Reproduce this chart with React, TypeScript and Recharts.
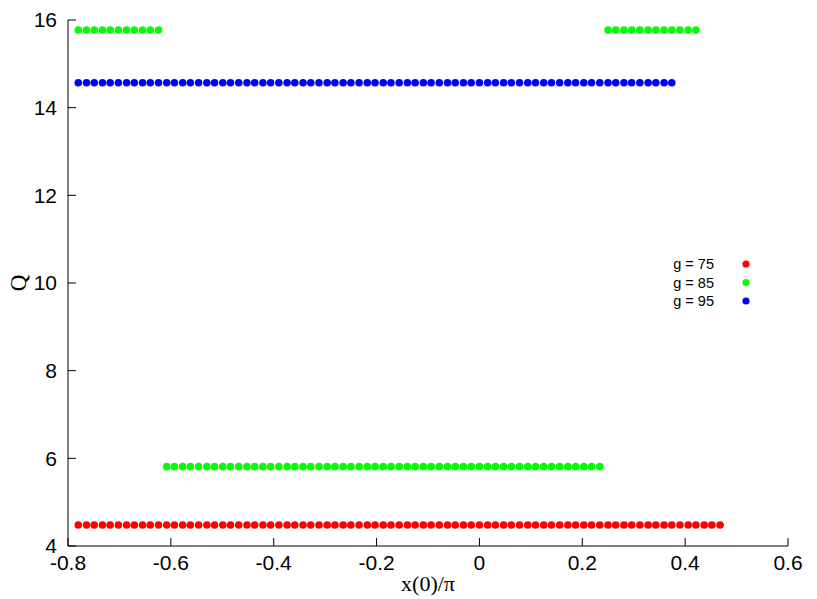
import React from 'react';
import { ScatterChart, Scatter, XAxis, YAxis, Legend, Label } from 'recharts';

// x(0)/pi sampling grid (same grid for every g)
const xGrid = [
  -0.780, -0.764, -0.749, -0.733, -0.718, -0.702, -0.686, -0.671, -0.655, -0.640,
  -0.624, -0.608, -0.593, -0.577, -0.562, -0.546, -0.530, -0.515, -0.499, -0.484,
  -0.468, -0.452, -0.437, -0.421, -0.406, -0.390, -0.374, -0.359, -0.343, -0.328,
  -0.312, -0.296, -0.281, -0.265, -0.250, -0.234, -0.218, -0.203, -0.187, -0.172,
  -0.156, -0.140, -0.125, -0.109, -0.094, -0.078, -0.062, -0.047, -0.031, -0.016,
  0.000, 0.016, 0.031, 0.047, 0.062, 0.078, 0.094, 0.109, 0.125, 0.140,
  0.156, 0.172, 0.187, 0.203, 0.218, 0.234, 0.250, 0.265, 0.281, 0.296,
  0.312, 0.328, 0.343, 0.359, 0.374, 0.390, 0.406, 0.421, 0.437, 0.452,
  0.468,
];

// Q levels
const q75 = 4.48;
const q85Low = 5.81;
const q85High = 15.77;
const q95 = 14.57;

const xTicks = [-0.8, -0.6, -0.4, -0.2, 0, 0.2, 0.4, 0.6];
const yTicks = [4, 6, 8, 10, 12, 14, 16];

const g75 = xGrid.map(x => ({ x, y: q75 }));
const g85 = [
  ...xGrid.slice(0, 11).map(x => ({ x, y: q85High })),
  ...xGrid.slice(11, 66).map(x => ({ x, y: q85Low })),
  ...xGrid.slice(66, 78).map(x => ({ x, y: q85High })),
];
const g95 = xGrid.slice(0, 75).map(x => ({ x, y: q95 }));

const series = [
  { name: 'g = 75', color: '#ff0000', data: g75 },
  { name: 'g = 85', color: '#00ff00', data: g85 },
  { name: 'g = 95', color: '#0000ff', data: g95 },
];

const sans = '"Liberation Sans", Arial, sans-serif';
const serif = '"Liberation Serif", "Times New Roman", serif';

const dot = (color: string) => (props: any) =>
  <circle cx={props.cx} cy={props.cy} r={3.8} fill={color} />;

const LegendBox = () => (
  <svg width={130} height={70}>
    {series.map((s, i) => (
      <g key={s.name}>
        <text x={74} y={14 + i * 18.5} textAnchor="end" dominantBaseline="central"
          fontFamily={sans} fontSize={14.5} fill="#000">{s.name}</text>
        <circle cx={106} cy={14 + i * 18.5} r={3.6} fill={s.color} />
      </g>
    ))}
  </svg>
);

export default function App() {
  return (
    <div style={{ position: 'absolute', left: 0, top: 0, background: '#fff' }}>
      <ScatterChart width={817} height={599} margin={{ top: 20, right: 29, bottom: 0, left: 0 }}>
        <XAxis type="number" dataKey="x" domain={[-0.8, 0.6]} ticks={xTicks} height={53}
          allowDataOverflow stroke="#000" tickSize={-8} tickMargin={17}
          tick={{ fill: '#000', fontSize: 21, fontFamily: sans }}>
          <Label value="x(0)/π" position="insideBottom" offset={8}
            style={{ fill: '#000', fontSize: 22, fontFamily: serif }} />
        </XAxis>
        <XAxis xAxisId="top" orientation="top" type="number" domain={[-0.8, 0.6]} height={0}
          tick={false} tickLine={false} stroke="#000" />
        <YAxis type="number" dataKey="y" domain={[4, 16]} ticks={yTicks} width={68}
          allowDataOverflow stroke="#000" tickSize={-8} tickMargin={19}
          tick={{ fill: '#000', fontSize: 21, fontFamily: sans }}>
          <Label value="Q" angle={-90} position="insideLeft" offset={18}
            style={{ fill: '#000', fontSize: 23, fontFamily: serif, textAnchor: 'middle' }} />
        </YAxis>
        <YAxis yAxisId="right" orientation="right" type="number" domain={[4, 16]} width={0}
          tick={false} tickLine={false} stroke="#000" />
        <Legend layout="vertical" align="center" verticalAlign="middle"
          content={() => <LegendBox />}
          wrapperStyle={{ position: 'absolute', left: 640, top: 250, width: 130 }} />
        {series.map(s => (
          <Scatter key={s.name} name={s.name} data={s.data} fill={s.color}
            shape={dot(s.color)} isAnimationActive={false} />
        ))}
      </ScatterChart>
    </div>
  );
}
